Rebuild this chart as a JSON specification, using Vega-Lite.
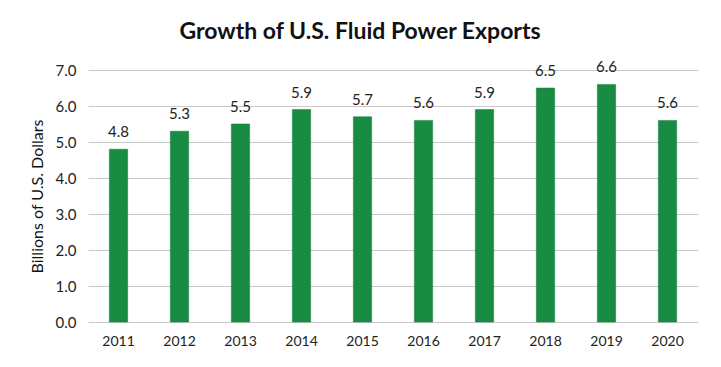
{
  "$schema": "https://vega.github.io/schema/vega-lite/v6.json",
  "width": 610,
  "height": 252,
  "autosize": {"type": "none"},
  "padding": {"left": 88, "top": 70, "right": 23, "bottom": 45},
  "background": "white",
  "title": {
    "text": "Growth of U.S. Fluid Power Exports",
    "font": "Lato",
    "fontSize": 23,
    "fontWeight": "bold",
    "color": "#111111",
    "anchor": "middle",
    "frame": "group",
    "dx": -33,
    "offset": 16
  },
  "data": {
    "values": [
      {"year": "2011", "value": 4.8},
      {"year": "2012", "value": 5.3},
      {"year": "2013", "value": 5.5},
      {"year": "2014", "value": 5.9},
      {"year": "2015", "value": 5.7},
      {"year": "2016", "value": 5.6},
      {"year": "2017", "value": 5.9},
      {"year": "2018", "value": 6.5},
      {"year": "2019", "value": 6.6},
      {"year": "2020", "value": 5.6}
    ]
  },
  "encoding": {
    "x": {
      "field": "year",
      "type": "nominal",
      "scale": {"paddingInner": 0.7, "paddingOuter": 0.35},
      "axis": {
        "title": null,
        "labelAngle": 0,
        "labelFont": "Lato",
        "labelFontSize": 14,
        "labelColor": "#222222",
        "labelPadding": 12,
        "ticks": false,
        "domain": false
      }
    },
    "y": {
      "field": "value",
      "type": "quantitative",
      "scale": {"domain": [0, 7], "nice": false},
      "axis": {
        "title": "Billions of U.S. Dollars",
        "titleFont": "Lato",
        "titleFontSize": 16,
        "titleFontWeight": "normal",
        "titleColor": "#111111",
        "titlePadding": 10,
        "values": [0, 1, 2, 3, 4, 5, 6, 7],
        "format": ".1f",
        "labelFont": "Lato",
        "labelFontSize": 15,
        "labelColor": "#222222",
        "labelPadding": 12,
        "ticks": false,
        "domain": false,
        "grid": true,
        "gridColor": "#c8c8c8",
        "gridWidth": 1
      }
    }
  },
  "layer": [
    {
      "mark": {"type": "bar", "color": "#178C42", "stroke": "#137a38", "strokeWidth": 0.5}
    },
    {
      "mark": {"type": "text", "dy": -17, "font": "Lato", "fontSize": 15, "color": "#222222"},
      "encoding": {
        "text": {"field": "value", "type": "quantitative", "format": ".1f"}
      }
    }
  ],
  "config": {"view": {"stroke": null}}
}
